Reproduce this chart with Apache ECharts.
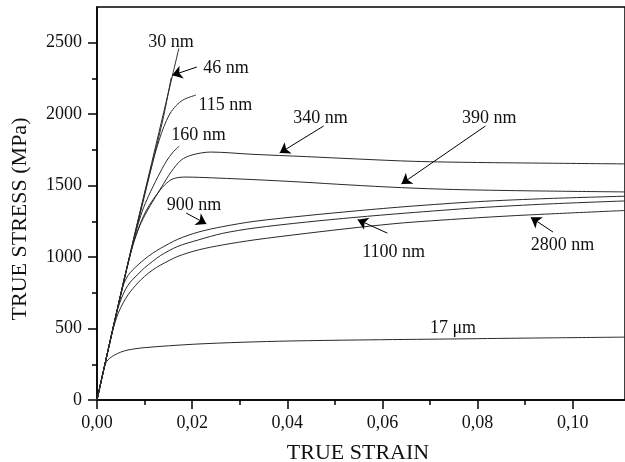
<!DOCTYPE html>
<html><head><meta charset="utf-8">
<script src="https://cdn.jsdelivr.net/npm/echarts@6/dist/echarts.min.js"></script>
<style>html,body{margin:0;padding:0;background:#fff}#c{width:625px;height:462px}</style>
</head><body><div id="c"></div>
<script>
// ---- axis ticks ----
const xMajorTicks = [0, 0.02, 0.04, 0.06, 0.08, 0.10];
const xMinorTicks = [0.01, 0.03, 0.05, 0.07, 0.09];
const yMajorTicks = [0, 500, 1000, 1500, 2000, 2500];
const yMinorTicks = [250, 750, 1250, 1750, 2250];

// ---- curves: [true strain, true stress (MPa)] ----
const curve30nm = [[0,0],[0.002,300],[0.004,595],[0.006,885],[0.008,1170],[0.010,1450],[0.012,1730],[0.014,2010],[0.016,2290],[0.0172,2460]];
const curve46nm = [[0,0],[0.002,300],[0.004,592],[0.006,878],[0.008,1155],[0.010,1430],[0.012,1705],[0.014,1985],[0.0156,2255]];
const curve115nm = [[0,0],[0.002,300],[0.004,595],[0.006,885],[0.008,1170],[0.010,1445],[0.011,1575],[0.012,1700],[0.0128,1790],[0.0136,1872],[0.0146,1955],[0.0156,2018],[0.017,2072],[0.0184,2105],[0.0208,2134]];
const curve160nm = [[0,0],[0.002,300],[0.004,595],[0.006,885],[0.008,1155],[0.0095,1320],[0.0108,1425],[0.0128,1562],[0.0146,1672],[0.016,1735],[0.0173,1777]];
const curve340nm = [[0,0],[0.002,300],[0.004,595],[0.006,885],[0.0075,1080],[0.009,1220],[0.0105,1320],[0.012,1405],[0.0136,1492],[0.0156,1597],[0.0177,1679],[0.020,1715],[0.0239,1735],[0.0328,1719],[0.044,1703],[0.055,1686],[0.0666,1670],[0.08,1662],[0.095,1657],[0.111,1652]];
const curve390nm = [[0,0],[0.002,300],[0.004,595],[0.006,885],[0.0075,1080],[0.009,1225],[0.0105,1335],[0.0122,1422],[0.0142,1504],[0.016,1548],[0.0185,1560],[0.0215,1558],[0.033,1542],[0.043,1525],[0.053,1505],[0.064,1486],[0.075,1473],[0.09,1464],[0.111,1456]];
const curve900nm = [[0,0],[0.002,300],[0.004,595],[0.0055,800],[0.0065,870],[0.0075,910],[0.0086,945],[0.010,985],[0.0117,1027],[0.0134,1062],[0.017,1125],[0.0213,1175],[0.0264,1213],[0.033,1250],[0.044,1290],[0.055,1325],[0.0656,1355],[0.08,1388],[0.095,1410],[0.111,1426]];
const curve1100nm = [[0,0],[0.002,300],[0.004,595],[0.005,700],[0.006,775],[0.007,825],[0.0086,880],[0.010,925],[0.0117,970],[0.0134,1012],[0.017,1075],[0.0213,1120],[0.0264,1166],[0.033,1203],[0.044,1245],[0.0543,1278],[0.065,1308],[0.08,1345],[0.095,1372],[0.111,1393]];
const curve2800nm = [[0,0],[0.002,300],[0.0035,510],[0.0045,610],[0.0055,680],[0.0065,735],[0.0075,778],[0.0086,820],[0.010,865],[0.0117,910],[0.0134,945],[0.017,1005],[0.0213,1050],[0.0264,1085],[0.033,1120],[0.044,1166],[0.055,1208],[0.0646,1240],[0.08,1275],[0.0907,1295],[0.111,1326]];
const curve17um = [[0,0],[0.0008,125],[0.0016,235],[0.002,268],[0.0027,293],[0.0037,315],[0.005,335],[0.0065,350],[0.0099,366],[0.0202,390],[0.0305,404],[0.0408,413],[0.055,420],[0.0742,427],[0.09,433],[0.111,440]];

const curveNames = ['30 nm','46 nm','115 nm','160 nm','340 nm','390 nm','900 nm','1100 nm','2800 nm','17 μm'];
const curves = [curve30nm, curve46nm, curve115nm, curve160nm, curve340nm, curve390nm, curve900nm, curve1100nm, curve2800nm, curve17um];

// ---- annotation labels (data coords) and arrows ----
const labelTexts = ['30 nm','46 nm','115 nm','160 nm','340 nm','390 nm','900 nm','1100 nm','2800 nm','17 μm'];
const labelAt = [[0.01557,2500],[0.0271,2323],[0.0270,2064],[0.02134,1854],[0.0470,1973],[0.08247,1973],[0.0204,1364],[0.06237,1036],[0.09784,1085],[0.07485,504]];
const arrowFrom = [[0.0210,2330],[0.04763,1917],[0.08165,1917],[0.01876,1308],[0.06103,1168],[0.09588,1175]];
const arrowTo   = [[0.01580,2272],[0.03840,1728],[0.0640,1512],[0.0230,1232],[0.05480,1262],[0.09120,1278]];

const FONT = 'Liberation Serif';
const chart = echarts.init(document.getElementById('c'), null, {renderer: 'canvas'});

const series = curves.map((d, i) => ({
  name: curveNames[i], type: 'line', data: d, xAxisIndex: 0, yAxisIndex: 0,
  showSymbol: false, smooth: 0.3, silent: true,
  lineStyle: {color: '#2a2a2a', width: 1}, animation: false
}));
series[9].markPoint = {
  symbol: 'circle', symbolSize: 0, silent: true, animation: false,
  label: {show: true, position: 'inside', formatter: '{b}', color: '#111', fontFamily: FONT, fontSize: 18},
  data: labelTexts.map((t, i) => ({name: t, coord: labelAt[i], value: 0}))
};
series[9].markLine = {
  symbol: ['none', 'arrow'], symbolSize: 10, silent: true, animation: false,
  lineStyle: {color: '#000', width: 1, type: 'solid'},
  itemStyle: {color: '#000'},
  label: {show: false},
  emphasis: {disabled: true},
  data: arrowFrom.map((p, i) => [{coord: p}, {coord: arrowTo[i]}])
};

chart.setOption({
  animation: false,
  backgroundColor: '#fff',
  grid: {left: 97, top: 7, right: -10, bottom: 62, show: true, borderColor: '#000', borderWidth: 1.5, backgroundColor: 'transparent'},
  xAxis: [
    {type: 'value', min: 0, max: 0.111, position: 'bottom',
     axisLine: {show: true, lineStyle: {color: '#000', width: 1.5}},
     axisTick: {show: true, inside: false, length: 9, customValues: xMajorTicks, lineStyle: {color: '#000', width: 1.5}},
     axisLabel: {customValues: xMajorTicks, margin: 14, color: '#111', fontFamily: FONT, fontSize: 18,
       formatter: v => v.toFixed(2).replace('.', ',')},
     splitLine: {show: false}},
    {type: 'value', min: 0, max: 0.111, position: 'bottom',
     axisLine: {show: false},
     axisTick: {show: true, inside: false, length: 5, customValues: xMinorTicks, lineStyle: {color: '#000', width: 1.5}},
     axisLabel: {show: false}, splitLine: {show: false}}
  ],
  yAxis: [
    {type: 'value', min: 0, max: 2750, position: 'left',
     axisLine: {show: true, lineStyle: {color: '#000', width: 1.5}},
     axisTick: {show: true, inside: false, length: 9, customValues: yMajorTicks, lineStyle: {color: '#000', width: 1.5}},
     axisLabel: {customValues: yMajorTicks, margin: 15, color: '#111', fontFamily: FONT, fontSize: 18,
       formatter: v => String(v)},
     splitLine: {show: false}},
    {type: 'value', min: 0, max: 2750, position: 'left',
     axisLine: {show: false},
     axisTick: {show: true, inside: false, length: 5, customValues: yMinorTicks, lineStyle: {color: '#000', width: 1.5}},
     axisLabel: {show: false}, splitLine: {show: false}}
  ],
  graphic: [
    {type: 'text', x: 358, y: 453, silent: true,
     style: {text: 'TRUE STRAIN', fill: '#111', font: '22px "Liberation Serif"', textAlign: 'center', textVerticalAlign: 'middle'}},
    {type: 'text', x: 20, y: 219, rotation: Math.PI / 2, silent: true,
     style: {text: 'TRUE STRESS (MPa)', fill: '#111', font: '22px "Liberation Serif"', textAlign: 'center', textVerticalAlign: 'middle'}}
  ],
  series: series
});
</script></body></html>
